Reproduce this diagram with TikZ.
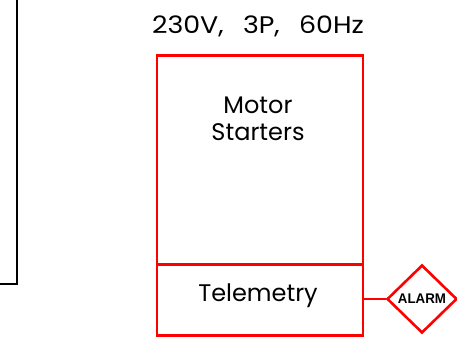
\documentclass[tikz,border=0pt]{standalone}
\usepackage{fontspec}
\setmainfont{Poppins}
\newfontfamily\alarmfont{Liberation Sans}
\usetikzlibrary{shapes.geometric}
\definecolor{cadred}{RGB}{255,0,0}
\tikzset{
  redline/.style={draw=cadred, line width=2.6pt},
  lbl/.style={font=\fontsize{24}{28}\selectfont, text=black, align=center, inner sep=0pt},
}
\begin{document}
\begin{tikzpicture}[x=1pt,y=-1pt]
\useasboundingbox (0,0) rectangle (457,339);
% black frame edge
\coordinate (bt) at (17,-2);
\coordinate (bc) at (17,284);
\coordinate (bl) at (-2,284);
\draw[line width=2.2pt, black] (bt) -- (bc) -- (bl);
% panel
\node[redline, minimum width=206pt, minimum height=209pt, inner sep=0pt, anchor=north west] (ms) at (155.5,54) {};
\node[redline, minimum width=206pt, minimum height=71pt, inner sep=0pt, anchor=north west] (tel) at (155.5,263) {};
\node[lbl] (title) at (258,26) {\scalebox{1.12}[1]{230V,\hspace{0.72em}3P,\hspace{0.72em}60Hz}};
\node[lbl] (mstext) at (258,119) {Motor\\[-1pt]Starters};
\node[lbl] (teltext) at (258,296) {Telemetry};
\node[redline, diamond, minimum width=70pt, minimum height=68pt, inner sep=0pt] (alarm) at (422,299) {};
\node[font=\alarmfont\bfseries\fontsize{14}{14}\selectfont, inner sep=0pt] (alarmtext) at (422,299) {\scalebox{0.95}[1]{ALARM}};
\draw[redline] (tel.east |- alarm.west) -- (alarm.west);
\end{tikzpicture}
\end{document}
